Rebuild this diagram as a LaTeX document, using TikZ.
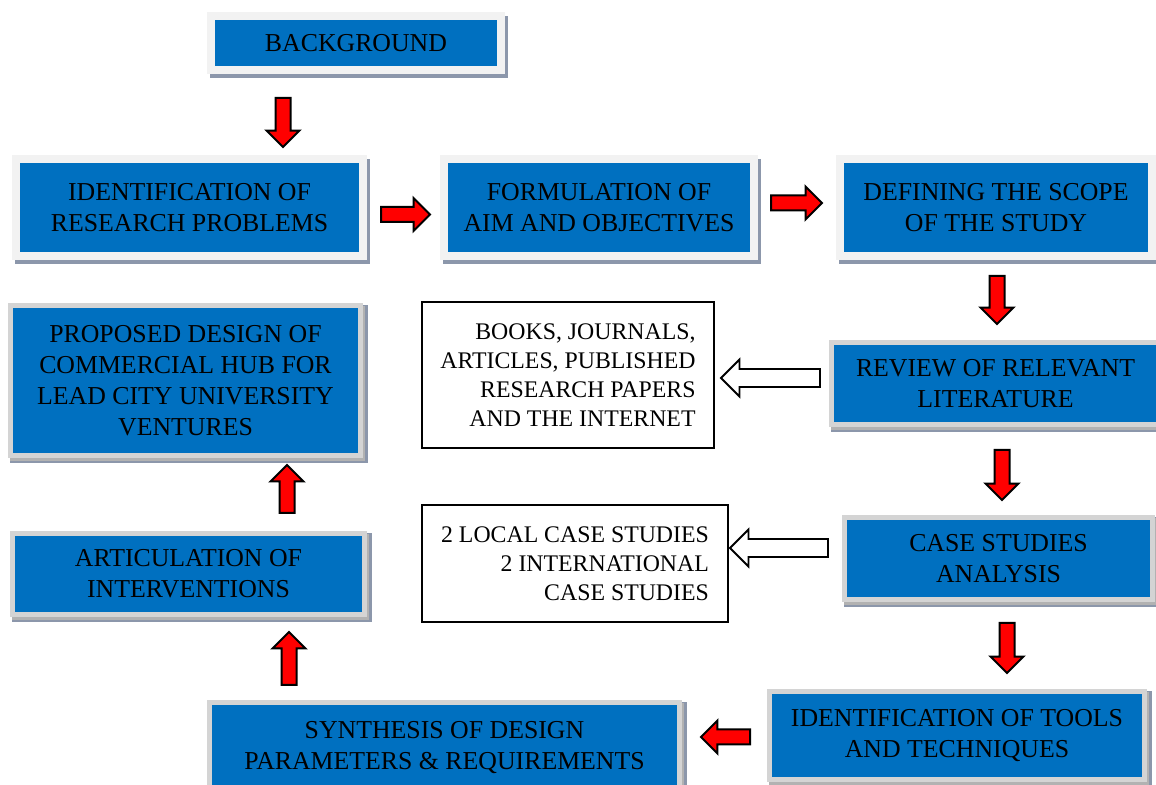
\documentclass[tikz,border=0pt]{standalone}
\usepackage{fontspec}
\setmainfont{Liberation Serif}
\newfontfamily\hubfont{Liberation Serif}
\usetikzlibrary{calc,shadows}

\definecolor{hubblue}{HTML}{0070C0}
\definecolor{framegray}{HTML}{F2F2F2}
\definecolor{bevelgray}{HTML}{D4D4D4}
\definecolor{shadowgray}{HTML}{8C97AB}

% block arrow: [style]{start}{end}{half shaft width}{half head width = head length}
\newcommand{\blockarrow}[5][redblock]{%
  \coordinate (ba-c) at ($(#3)!#5!(#2)$);
  \draw[#1] ($(#2)!#4!90:(#3)$) -- ($(ba-c)!#4!90:(#3)$) -- ($(ba-c)!#5!90:(#3)$) -- (#3)
    -- ($(ba-c)!#5!-90:(#3)$) -- ($(ba-c)!#4!-90:(#3)$) -- ($(#2)!#4!-90:(#3)$) -- cycle;
}

\begin{document}
\begin{tikzpicture}[x=0.5pt, y=0.5pt]
    % Marco del dibujo
    \useasboundingbox (0,0) rectangle (1156,785);
    \clip (0,0) rectangle (1156,785);

    % --- ESTILOS ---
    \tikzset{
        stage/.style={fill=hubblue, draw=framegray, line width=4pt, align=center,
            font=\hubfont\fontsize{12.9}{15.5}\selectfont, inner sep=0pt,
            drop shadow={shadow xshift=1.5pt, shadow yshift=-2pt, fill=shadowgray,
                draw=shadowgray, line width=4pt, opacity=1}},
        bevel/.style={stage, draw=bevelgray, line width=2.5pt,
            drop shadow={shadow xshift=1pt, shadow yshift=-1.5pt, fill=gray!60,
                draw=gray!60, line width=2.5pt, opacity=1}},
        source/.style={fill=white, draw=black, line width=0.9pt, align=right,
            font=\hubfont\fontsize{11.9}{14.5}\selectfont},
        redblock/.style={fill=red, draw=black, line width=1pt},
        whiteblock/.style={fill=white, draw=black, line width=0.9pt}
    }

    % --- ETAPAS (cajas azules) ---
    \node[stage, minimum width=145pt, minimum height=27pt] (bg) at (356, 742) {BACKGROUND};
    \node[stage, minimum width=173.5pt, minimum height=48.5pt] (ip) at (189.5, 577.5)
        {IDENTIFICATION OF\\RESEARCH PROBLEMS};
    \node[stage, minimum width=155pt, minimum height=48.5pt] (fa) at (599, 577.5)
        {FORMULATION OF\\AIM AND OBJECTIVES};
    \node[stage, minimum width=156pt, minimum height=48.5pt] (ds) at (996, 577.5)
        {DEFINING THE SCOPE\\OF THE STUDY};
    \node[bevel, minimum width=164pt, minimum height=41pt] (rl) at (995.5, 401.5)
        {REVIEW OF RELEVANT\\LITERATURE};
    \node[bevel, minimum width=154pt, minimum height=41pt] (cs) at (998.5, 226.5)
        {CASE STUDIES\\ANALYSIS};
    \node[bevel, minimum width=187.5pt, minimum height=44pt] (tt) at (957, 49.5)
        {IDENTIFICATION OF TOOLS\\AND TECHNIQUES};
    \node[bevel, minimum width=235pt, minimum height=45pt] (sy) at (444.5, 37.5)
        {SYNTHESIS OF DESIGN\\PARAMETERS \& REQUIREMENTS};
    \node[bevel, minimum width=176pt, minimum height=40.5pt] (ar) at (188.5, 211)
        {ARTICULATION OF\\INTERVENTIONS};
    \node[bevel, minimum width=175pt, minimum height=75pt] (pd) at (185.5, 404.5)
        {PROPOSED DESIGN OF\\COMMERCIAL HUB FOR\\LEAD CITY UNIVERSITY\\VENTURES};

    % --- FUENTES (cajas blancas) ---
    \node[source, minimum width=146pt, minimum height=73pt] (bk) at (568, 410)
        {BOOKS, JOURNALS,\\ARTICLES, PUBLISHED\\RESEARCH PAPERS\\AND THE INTERNET};
    \node[source, minimum width=153pt, minimum height=58.5pt] (lc) at (575, 221.5)
        {2 LOCAL CASE STUDIES\\2 INTERNATIONAL\\CASE STUDIES};

    % --- EXTREMOS DE LAS FLECHAS ---
    \coordinate (bg-s) at (283, 687);   \coordinate (ip-e) at (283, 638);
    \coordinate (ip-s) at (381, 570.5); \coordinate (fa-e) at (430, 570.5);
    \coordinate (fa-s) at (771, 582);   \coordinate (ds-e) at (822, 582);
    \coordinate (ds-s) at (997, 509);   \coordinate (rl-e) at (997, 461);
    \coordinate (rl-s) at (1002, 335);  \coordinate (cs-e) at (1002, 285);
    \coordinate (cs-s) at (1007, 162);  \coordinate (tt-e) at (1007, 112);
    \coordinate (tt-s) at (750, 48);    \coordinate (sy-e) at (701, 48);
    \coordinate (sy-s) at (289, 100);   \coordinate (ar-e) at (289, 153);
    \coordinate (ar-s) at (287, 272);   \coordinate (pd-e) at (287, 320);
    \coordinate (rl-w) at (820, 407);   \coordinate (bk-e) at (721, 407);
    \coordinate (cs-w) at (828, 237);   \coordinate (lc-e) at (730, 237);

    % --- FLECHAS ROJAS (secuencia) ---
    \blockarrow{bg-s}{ip-e}{3.75pt}{8.2pt}
    \blockarrow{ip-s}{fa-e}{3.75pt}{8.2pt}
    \blockarrow{fa-s}{ds-e}{3.75pt}{8.2pt}
    \blockarrow{ds-s}{rl-e}{3.75pt}{8.2pt}
    \blockarrow{rl-s}{cs-e}{3.75pt}{8.2pt}
    \blockarrow{cs-s}{tt-e}{3.75pt}{8.2pt}
    \blockarrow{tt-s}{sy-e}{3.75pt}{8.2pt}
    \blockarrow{sy-s}{ar-e}{3.75pt}{8.2pt}
    \blockarrow{ar-s}{pd-e}{3.75pt}{8.2pt}

    % --- FLECHAS BLANCAS (fuentes) ---
    \blockarrow[whiteblock]{rl-w}{bk-e}{4.5pt}{9.2pt}
    \blockarrow[whiteblock]{cs-w}{lc-e}{4.5pt}{9.2pt}

\end{tikzpicture}
\end{document}
